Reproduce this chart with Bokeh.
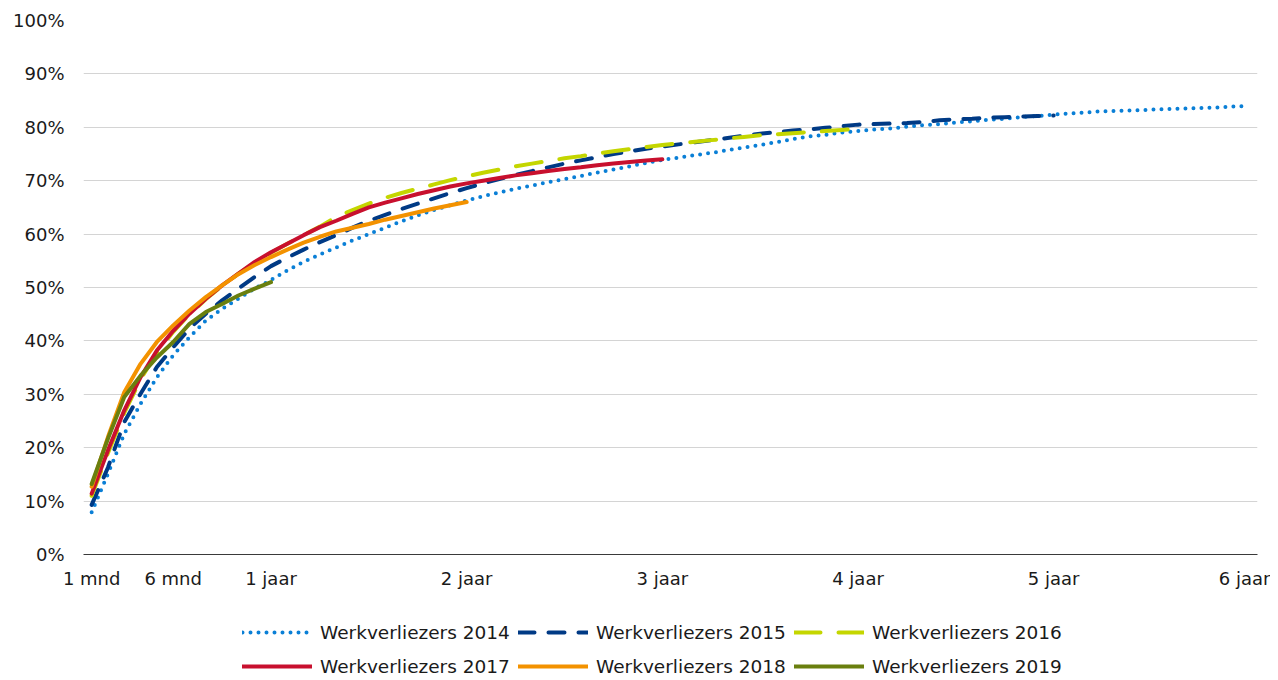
from bokeh.plotting import figure
from bokeh.layouts import column
from bokeh.models import FixedTicker, PrintfTickFormatter, Legend, LegendItem, Range1d
from bokeh.embed import file_html
from bokeh.resources import INLINE

# ---- data -------------------------------------------------------------
tick_months = [1, 6, 12, 24, 36, 48, 60, 72]
tick_labels = ["1 mnd", "6 mnd", "1 jaar", "2 jaar", "3 jaar", "4 jaar", "5 jaar", "6 jaar"]
y_ticks = [0, 10, 20, 30, 40, 50, 60, 70, 80, 90, 100]

series_names = ["Werkverliezers 2014", "Werkverliezers 2015", "Werkverliezers 2016",
                "Werkverliezers 2017", "Werkverliezers 2018", "Werkverliezers 2019"]

w2014 = [7.9, 15.1, 22.6, 28.2, 33.2, 37.3, 40.7, 43.8, 46.0, 47.9, 49.8, 51.4,
         53.2, 54.8, 56.2, 57.5, 58.8, 60.0, 61.2, 62.4, 63.5, 64.5, 65.4, 66.3,
         67.1, 67.8, 68.5, 69.1, 69.7, 70.3, 70.9, 71.5, 72.1, 72.7, 73.3, 73.9,
         74.3, 74.8, 75.2, 75.7, 76.2, 76.7, 77.2, 77.8, 78.3, 78.6, 79.0, 79.3,
         79.6, 79.8, 80.1, 80.4, 80.6, 80.9, 81.1, 81.4, 81.6, 81.9, 82.1, 82.4,
         82.6, 82.8, 83.0, 83.1, 83.2, 83.3, 83.4, 83.5, 83.6, 83.7, 83.9, 84.0]
w2015 = [9.3, 16.3, 24.8, 30.1, 35.1, 38.8, 42.3, 45.1, 47.6, 49.8, 52.0, 54.0,
         55.6, 57.1, 58.5, 59.8, 61.2, 62.5, 63.6, 64.7, 65.7, 66.7, 67.7, 68.6,
         69.5, 70.3, 71.1, 71.8, 72.5, 73.2, 73.8, 74.4, 75.0, 75.5, 76.0, 76.4,
         76.8, 77.2, 77.6, 78.0, 78.4, 78.8, 79.1, 79.4, 79.6, 79.9, 80.2, 80.5,
         80.6, 80.7, 80.8, 81.0, 81.3, 81.5, 81.6, 81.8, 81.9, 82.0, 82.1, 82.2]
w2016 = [11.0, 19.0, 26.5, 32.8, 37.8, 41.7, 45.0, 47.8, 50.3, 52.6, 54.6, 56.5,
         58.2, 59.8, 61.4, 63.2, 64.5, 65.7, 66.8, 67.7, 68.5, 69.3, 70.1, 70.8,
         71.5, 72.1, 72.7, 73.2, 73.7, 74.2, 74.6, 75.1, 75.5, 75.9, 76.3, 76.7,
         77.0, 77.3, 77.6, 77.9, 78.2, 78.5, 78.7, 78.9, 79.1, 79.3, 79.5, 79.7]
w2017 = [11.4, 19.5, 27.0, 33.2, 38.2, 41.9, 45.1, 47.9, 50.4, 52.6, 54.8, 56.6,
         58.2, 59.8, 61.3, 62.5, 63.8, 65.0, 65.9, 66.7, 67.5, 68.2, 68.9, 69.5,
         70.0, 70.5, 71.0, 71.4, 71.8, 72.2, 72.5, 72.9, 73.2, 73.5, 73.8, 74.0]
w2018 = [12.7, 22.0, 30.4, 35.7, 39.8, 42.9, 45.7, 48.2, 50.4, 52.5, 54.2, 55.7,
         57.1, 58.4, 59.5, 60.5, 61.2, 61.9, 62.7, 63.4, 64.1, 64.8, 65.4, 66.0]
w2019 = [13.2, 21.7, 29.5, 33.5, 36.9, 39.8, 43.2, 45.4, 46.9, 48.5, 49.8, 51.0]

series_values = [w2014, w2015, w2016, w2017, w2018, w2019]

# ---- styles -----------------------------------------------------------
colors = ["#0a7fd6", "#003a85", "#c4d600", "#c8102e", "#f39200", "#6a7f0e"]
dashes = ["0 8", "16 14", "26 18", "solid", "solid", "solid"]
FONT = "DejaVu Sans"

p = figure(width=1270, height=596, output_backend="svg", toolbar_location=None,
           x_range=Range1d(0.5, 72.5), y_range=Range1d(0, 100),
           min_border_left=83, min_border_right=13, min_border_top=20,
           min_border_bottom=42, outline_line_color=None,
           background_fill_color="white", border_fill_color="white")

for vals, col, dash in zip(series_values, colors, dashes):
    xs = list(range(1, len(vals) + 1))
    p.line(xs, vals, line_color=col, line_width=4, line_dash=dash,
           line_cap="round", line_join="round")

# axes
p.xaxis.ticker = FixedTicker(ticks=tick_months)
p.xaxis.major_label_overrides = {m: lab for m, lab in zip(tick_months, tick_labels)}
p.xaxis.axis_line_color = "#3a3a3a"
p.xaxis.axis_line_width = 1.2
p.xaxis.major_tick_line_color = None
p.xaxis.minor_tick_line_color = None
p.xaxis.major_label_standoff = 7
p.xaxis.major_label_text_font = FONT
p.xaxis.major_label_text_font_size = "18px"
p.xaxis.major_label_text_color = "#1a1a1a"

p.yaxis.ticker = FixedTicker(ticks=y_ticks)
p.yaxis.formatter = PrintfTickFormatter(format="%d%%")
p.yaxis.axis_line_color = None
p.yaxis.major_tick_line_color = None
p.yaxis.minor_tick_line_color = None
p.yaxis.major_label_standoff = 13
p.yaxis.major_label_text_font = FONT
p.yaxis.major_label_text_font_size = "18px"
p.yaxis.major_label_text_color = "#1a1a1a"

p.xgrid.grid_line_color = None
p.ygrid.grid_line_color = "#d4d4d4"
p.ygrid.grid_line_width = 1.2

# ---- legend strip below the chart ---------------------------------------
# same series drawn again, but outside this strip's visible range: only the
# legend swatches of this strip are visible
lg = figure(width=1270, height=84, output_backend="svg", toolbar_location=None,
            x_range=Range1d(0.5, 72.5), y_range=Range1d(-200, -100),
            x_axis_location=None, y_axis_location=None,
            min_border_left=83, min_border_right=13, min_border_top=0,
            min_border_bottom=0, outline_line_color=None,
            background_fill_color="white", border_fill_color="white")
lg.xgrid.grid_line_color = None
lg.ygrid.grid_line_color = None

swatches = []
for vals, col, dash in zip(series_values, colors, dashes):
    xs = list(range(1, len(vals) + 1))
    swatches.append(lg.line(xs, vals, line_color=col, line_width=4, line_dash=dash,
                            line_cap="round", line_join="round"))

legend = Legend(items=[LegendItem(label=n, renderers=[r]) for n, r in zip(series_names, swatches)],
                orientation="horizontal", ncols=3, location=(159, 0),
                glyph_width=70, glyph_height=28, label_standoff=8, label_width=192,
                spacing=6, padding=0, margin=0, border_line_color=None,
                background_fill_alpha=0, label_text_font=FONT,
                label_text_font_size="18.5px", label_text_color="#1a1a1a")
lg.add_layout(legend, "center")

layout = column(p, lg, spacing=0)

open("out.html", "w").write(file_html(layout, INLINE))
